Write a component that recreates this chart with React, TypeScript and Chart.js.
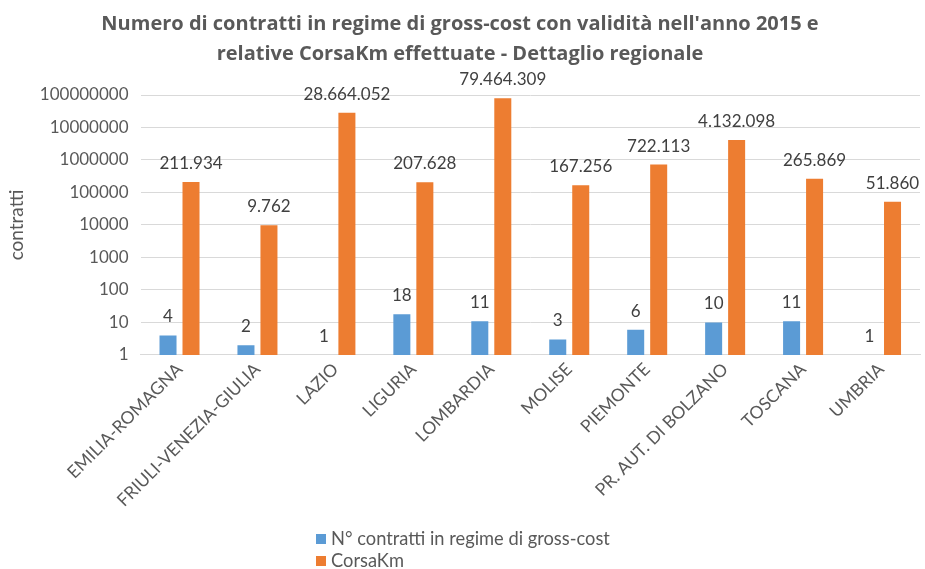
import React, { useEffect, useRef } from "react";
import { Chart, registerables } from "chart.js";

Chart.register(...registerables);

const categories = [
  "EMILIA-ROMAGNA",
  "FRIULI-VENEZIA-GIULIA",
  "LAZIO",
  "LIGURIA",
  "LOMBARDIA",
  "MOLISE",
  "PIEMONTE",
  "PR. AUT. DI BOLZANO",
  "TOSCANA",
  "UMBRIA",
];
const contratti = [4, 2, 1, 18, 11, 3, 6, 10, 11, 1];
const corsaKm = [211934, 9762, 28664052, 207628, 79464309, 167256, 722113, 4132098, 265869, 51860];
const yTicks = [1, 10, 100, 1000, 10000, 100000, 1000000, 10000000, 100000000];
const titleLines = [
  "Numero di contratti in regime di gross-cost con validità nell'anno 2015 e",
  "relative CorsaKm effettuate - Dettaglio regionale",
];
const seriesNames = ["N° contratti in regime di gross-cost", "CorsaKm"];
const seriesColors = ["#5B9BD5", "#ED7D31"];

const FONT = "Lato, 'Open Sans', sans-serif";
const TFONT = "'Open Sans', Lato, sans-serif";
const TEXT = "#595959";

const fmt = (v: number) => String(v).replace(/\B(?=(\d{3})+(?!\d))/g, ".");

const labelPlugin = {
  id: "valueLabels",
  afterDatasetsDraw(chart: any) {
    const ctx = chart.ctx;
    ctx.save();
    ctx.font = `17px ${FONT}`;
    ctx.fillStyle = "#404040";
    ctx.textAlign = "center";
    ctx.textBaseline = "alphabetic";
    chart.data.datasets.forEach((ds: any, i: number) => {
      const meta = chart.getDatasetMeta(i);
      meta.data.forEach((bar: any, j: number) => {
        ctx.fillText(fmt(ds.data[j]), bar.x, bar.y - 13);
      });
    });
    ctx.restore();
  },
};

const legendPlugin = {
  id: "stackLegend",
  afterDraw(chart: any) {
    const ctx = chart.ctx;
    ctx.save();
    ctx.font = `18.3px ${FONT}`;
    ctx.textBaseline = "middle";
    ctx.textAlign = "left";
    const x0 = 316;
    const ys = [539, 561];
    chart.data.datasets.forEach((ds: any, i: number) => {
      ctx.fillStyle = ds.backgroundColor;
      ctx.fillRect(x0, ys[i] - 5, 10, 10);
      ctx.fillStyle = TEXT;
      ctx.fillText(ds.label, x0 + 15, ys[i]);
    });
    ctx.restore();
  },
};

export default function App() {
  const ref = useRef<HTMLCanvasElement>(null);
  useEffect(() => {
    document.body.style.margin = "0";
    const chart = new Chart(ref.current!, {
      type: "bar",
      data: {
        labels: categories,
        datasets: [
          { label: seriesNames[0], data: contratti, backgroundColor: seriesColors[0] },
          { label: seriesNames[1], data: corsaKm, backgroundColor: seriesColors[1] },
        ],
      },
      options: {
        animation: false,
        responsive: false,
        layout: { padding: { left: 0, right: 5, top: 0, bottom: 54 } },
        datasets: { bar: { categoryPercentage: 0.59, barPercentage: 0.74 } },
        scales: {
          x: {
            ticks: {
              autoSkip: false,
              maxRotation: 45,
              minRotation: 45,
              color: TEXT,
              font: { family: FONT, size: 17.5 },
              padding: 4,
            },
            grid: { display: false, drawTicks: false },
            border: { color: "#D9D9D9", width: 1 },
          },
          y: {
            type: "logarithmic",
            min: 1,
            max: 100000000,
            afterBuildTicks: (scale: any) => {
              scale.ticks = yTicks.map((v) => ({ value: v }));
            },
            ticks: {
              color: TEXT,
              font: { family: FONT, size: 17 },
              padding: 12,
              callback: (v: any) => String(v),
            },
            grid: { color: "#D9D9D9", drawTicks: false },
            border: { display: false },
            title: {
              display: true,
              text: "contratti",
              color: TEXT,
              font: { family: FONT, size: 19 },
              padding: { top: 5, bottom: 0 },
            },
          },
        },
        plugins: {
          legend: { display: false },
          tooltip: { enabled: false },
          title: {
            display: true,
            text: titleLines,
            color: TEXT,
            font: { family: TFONT, size: 20, weight: "bold", lineHeight: 1.5 },
            padding: { top: 9, bottom: 26 },
          },
        },
      },
      plugins: [labelPlugin, legendPlugin],
    } as any);
    return () => chart.destroy();
  }, []);
  return (
    <div style={{ position: "absolute", left: 0, top: 0, width: 925, height: 569, background: "#fff" }}>
      <canvas ref={ref} width={925} height={569} />
    </div>
  );
}
